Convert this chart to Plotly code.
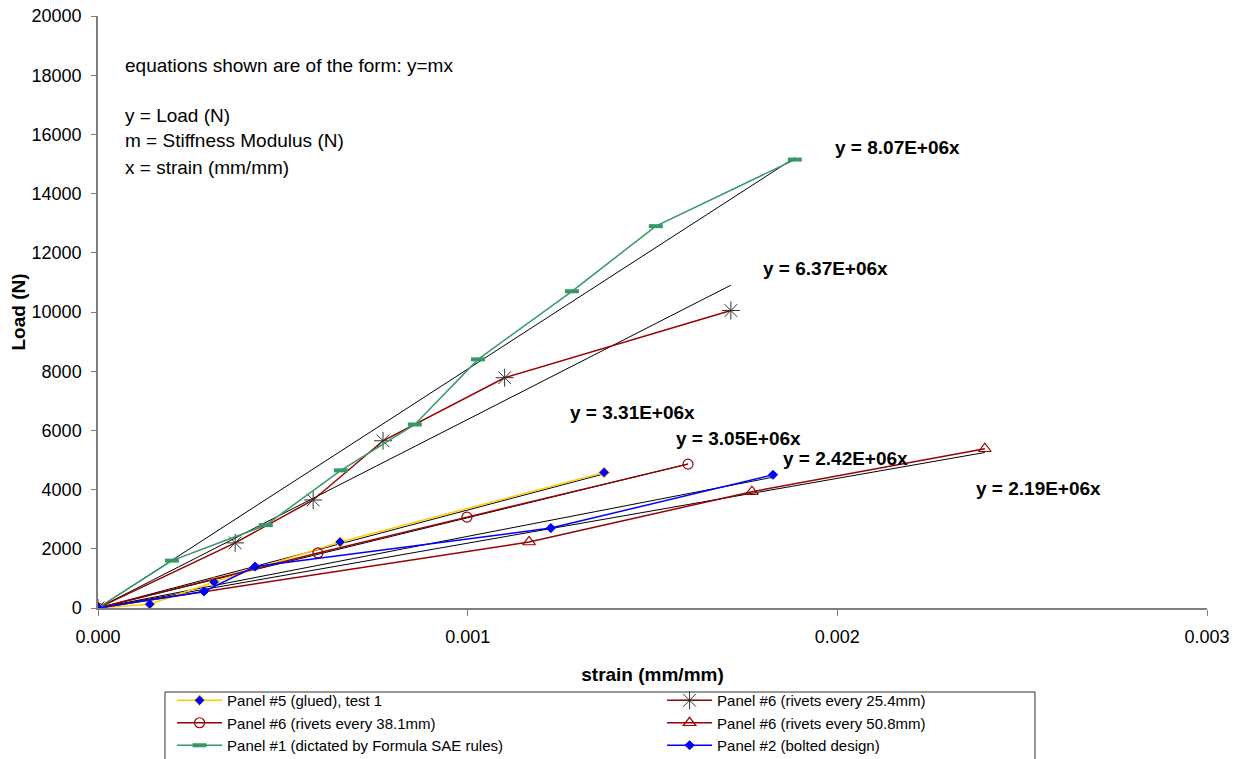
import plotly.graph_objects as go

# Panel #5 (glued), test 1
p5_x = [0.0, 0.000140, 0.000314, 0.000655, 0.001369]
p5_y = [0, 130, 880, 2230, 4580]
# Panel #6 (rivets every 25.4mm)
p6a_x = [0.0, 0.000371, 0.000582, 0.000771, 0.001100, 0.001712]
p6a_y = [0, 2200, 3650, 5650, 7780, 10050]
# Panel #6 (rivets every 38.1mm)
p6b_x = [0.0, 0.000595, 0.000998, 0.001596]
p6b_y = [0, 1860, 3070, 4860]
# Panel #6 (rivets every 50.8mm)
p6c_x = [0.0, 0.001166, 0.001769, 0.002399]
p6c_y = [0, 2230, 3930, 5380]
# Panel #1 (dictated by Formula SAE rules)
p1_x = [0.0, 0.000200, 0.000454, 0.000657, 0.000857, 0.001028, 0.001282, 0.001509, 0.001885]
p1_y = [0, 1600, 2800, 4650, 6200, 8400, 10700, 12900, 15150]
# Panel #2 (bolted design)
p2_x = [0.0, 0.000287, 0.000425, 0.001225, 0.001826]
p2_y = [0, 560, 1400, 2700, 4500]

# Stiffness moduli (trendline slopes, y = m x)
slopes = {"p1": 8.07e6, "p6a": 6.37e6, "p5": 3.31e6, "p6b": 3.05e6, "p2": 2.42e6, "p6c": 2.19e6}
eq_labels = {"p1": "y = 8.07E+06x", "p6a": "y = 6.37E+06x", "p5": "y = 3.31E+06x",
             "p6b": "y = 3.05E+06x", "p2": "y = 2.42E+06x", "p6c": "y = 2.19E+06x"}

x_ticks = [0.0, 0.001, 0.002, 0.003]
x_tick_text = ["0.000", "0.001", "0.002", "0.003"]
y_ticks = list(range(0, 20001, 2000))

GREEN = "#339966"
DRED = "#990000"
YEL = "#FFCC00"
BLUE = "#0000FF"
FONT = "Liberation Sans, Arial, sans-serif"

fig = go.Figure()

names = {"p5": "Panel #5 (glued), test 1",
         "p6a": "Panel #6 (rivets every 25.4mm)",
         "p6b": "Panel #6 (rivets every 38.1mm)",
         "p6c": "Panel #6 (rivets every 50.8mm)",
         "p1": "Panel #1 (dictated by Formula SAE rules)",
         "p2": "Panel #2 (bolted design)"}

series = [
    ("p5", p5_x, p5_y, dict(color=YEL, width=1.5),
     dict(symbol="diamond", size=8, color=BLUE, line=dict(color=YEL, width=1))),
    ("p6a", p6a_x, p6a_y, dict(color=DRED, width=1.5),
     dict(symbol="asterisk-open", size=15, color="#333333", line=dict(color="#333333", width=1))),
    ("p6b", p6b_x, p6b_y, dict(color=DRED, width=1.5),
     dict(symbol="circle-open", size=10, color=DRED, line=dict(color=DRED, width=1.2))),
    ("p6c", p6c_x, p6c_y, dict(color=DRED, width=1.5),
     dict(symbol="triangle-up-open", size=11, color=DRED, line=dict(color=DRED, width=1.2))),
    ("p1", p1_x, p1_y, dict(color=GREEN, width=1.5),
     dict(symbol="line-ew", size=10, color=GREEN, line=dict(color=GREEN, width=4))),
    ("p2", p2_x, p2_y, dict(color=BLUE, width=1.5),
     dict(symbol="diamond", size=7, color=BLUE, line=dict(color=BLUE, width=1))),
]
series_map = {s[0]: s for s in series}

# linear trendlines (drawn under the data); legend order as in the original
trend_order = ["p1", "p6a", "p6b", "p6c", "p5", "p2"]
for rank, key in enumerate(trend_order):
    xs = series_map[key][1]
    xmax = max(xs)
    m = slopes[key]
    fig.add_trace(go.Scatter(x=[0, xmax], y=[0, m * xmax], mode="lines",
                             name="Linear (" + names[key] + ")",
                             line=dict(color="black", width=1), legendrank=100 + rank,
                             hoverinfo="skip"))

for rank, (key, xs, ys, ln, mk) in enumerate(series):
    fig.add_trace(go.Scatter(x=xs, y=ys, mode="lines+markers", name=names[key],
                             line=ln, marker=mk, legendrank=10 + rank))

# equation labels (bold), placed next to each trendline
eq_pos = {"p1": (0.001988, 15573), "p6a": (0.001793, 11485), "p5": (0.001271, 6621),
          "p6b": (0.001558, 5743), "p2": (0.001847, 5067), "p6c": (0.002369, 4054)}
for key, (ex, ey) in eq_pos.items():
    fig.add_annotation(x=ex, y=ey, xref="x", yref="y", text="<b>" + eq_labels[key] + "</b>",
                       showarrow=False, xanchor="left", yanchor="middle",
                       font=dict(family=FONT, size=19, color="black"))

notes = [("equations shown are of the form: y=mx", 18343),
         ("y = Load (N)", 16654), ("m = Stiffness Modulus (N)", 15809),
         ("x = strain (mm/mm)", 14897)]
for txt, yy in notes:
    fig.add_annotation(x=0.0000676, y=yy, xref="x", yref="y", text=txt, showarrow=False,
                       xanchor="left", yanchor="middle",
                       font=dict(family=FONT, size=19, color="black"))

# legend frame
fig.add_shape(type="rect", xref="paper", yref="paper", x0=0.0604, x1=0.8449,
              y0=-0.1419, y1=-0.30, line=dict(color="#333333", width=1),
              fillcolor="rgba(0,0,0,0)", layer="above")

fig.update_layout(
    width=1237, height=759,
    margin=dict(l=98, r=30, t=16, b=151, autoexpand=False),
    paper_bgcolor="white", plot_bgcolor="white",
    font=dict(family=FONT, size=18, color="black"),
    xaxis=dict(range=[0, 0.003], tickvals=x_ticks, ticktext=x_tick_text,
               showgrid=False, zeroline=False, showline=True, linecolor="#808080",
               linewidth=1.5, ticks="outside", ticklen=6, tickcolor="#808080",
               ticklabelstandoff=6,
               title=dict(text="<b>strain (mm/mm)</b>", font=dict(size=19), standoff=21),
               tickfont=dict(size=18)),
    yaxis=dict(range=[0, 20000], tickvals=y_ticks, showgrid=False, zeroline=False,
               showline=True, linecolor="#808080", linewidth=1.5, ticks="outside",
               ticklen=5, tickcolor="#808080", tickformat="d", ticklabelstandoff=6,
               title=dict(text="<b>Load (N)</b>", font=dict(size=19), standoff=1),
               tickfont=dict(size=18)),
    legend=dict(orientation="h", x=0.0668, xanchor="left", y=-0.1284, yanchor="top",
                entrywidth=430, entrywidthmode="pixels", borderwidth=0,
                bgcolor="rgba(255,255,255,0)", font=dict(size=15), itemwidth=45,
                tracegroupgap=0),
    showlegend=True,
)

fig.write_html("out.html", config={"displayModeBar": False},
               post_script="document.body.style.margin='0';document.body.style.overflow='hidden';")
